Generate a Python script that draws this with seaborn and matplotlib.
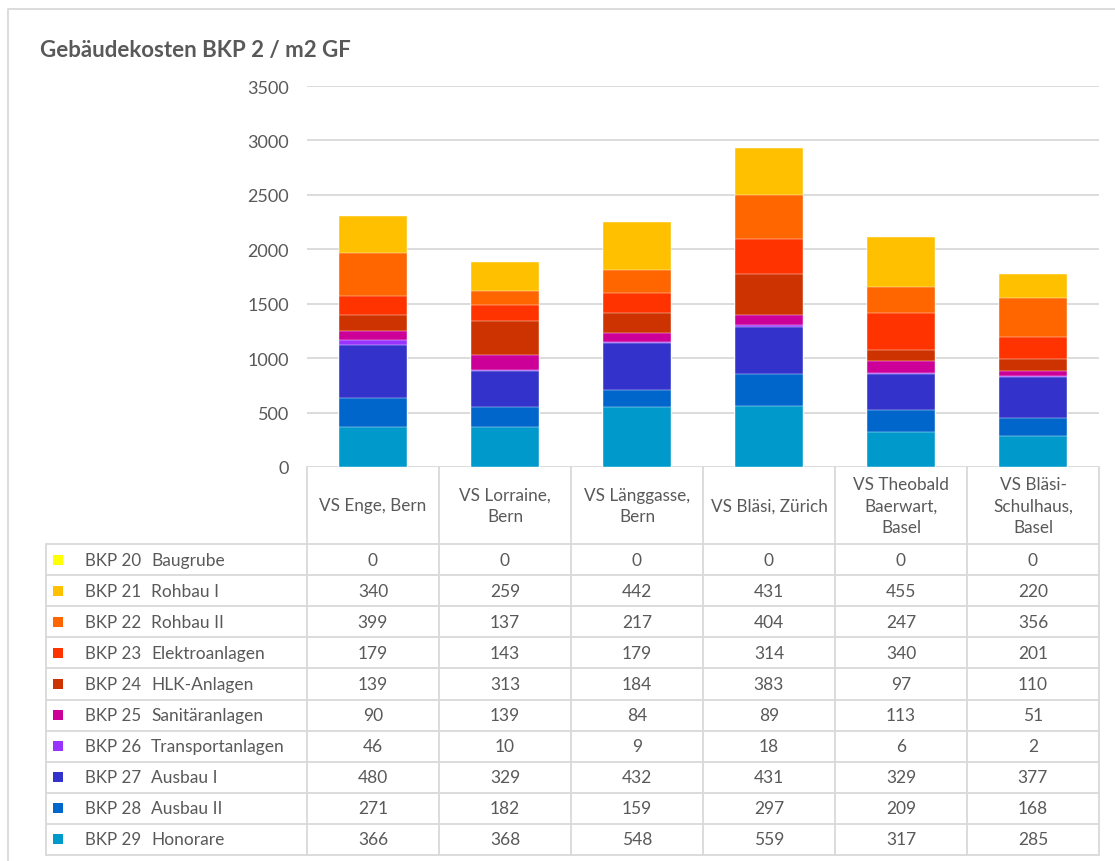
import numpy as np
import pandas as pd
import matplotlib
matplotlib.use("Agg")
import matplotlib.pyplot as plt
import seaborn as sns

# ---- data ----
schools = ["VS Enge, Bern", "VS Lorraine,\nBern", "VS Länggasse,\nBern",
           "VS Bläsi, Zürich", "VS Theobald\nBaerwart,\nBasel", "VS Bläsi-\nSchulhaus,\nBasel"]
codes = ["BKP 20", "BKP 21", "BKP 22", "BKP 23", "BKP 24",
         "BKP 25", "BKP 26", "BKP 27", "BKP 28", "BKP 29"]
names = ["Baugrube", "Rohbau I", "Rohbau II", "Elektroanlagen", "HLK-Anlagen",
         "Sanitäranlagen", "Transportanlagen", "Ausbau I", "Ausbau II", "Honorare"]
bkp20 = [0, 0, 0, 0, 0, 0]
bkp21 = [340, 259, 442, 431, 455, 220]
bkp22 = [399, 137, 217, 404, 247, 356]
bkp23 = [179, 143, 179, 314, 340, 201]
bkp24 = [139, 313, 184, 383, 97, 110]
bkp25 = [90, 139, 84, 89, 113, 51]
bkp26 = [46, 10, 9, 18, 6, 2]
bkp27 = [480, 329, 432, 431, 329, 377]
bkp28 = [271, 182, 159, 297, 209, 168]
bkp29 = [366, 368, 548, 559, 317, 285]
colors = ["#FFFF00", "#FFC000", "#FF6600", "#FF3300", "#CC3300",
          "#CC0099", "#9933FF", "#3333CC", "#0066CC", "#0099CC"]
yticks = [0, 500, 1000, 1500, 2000, 2500, 3000, 3500]

series = [bkp20, bkp21, bkp22, bkp23, bkp24, bkp25, bkp26, bkp27, bkp28, bkp29]

sns.set_theme(style="white")
plt.rcParams['font.family'] = ['Lato', 'DejaVu Sans']
TXT = "#595959"
GRID = "#D9D9D9"

W, H = 1115, 862
fig = plt.figure(figsize=(W / 100, H / 100), dpi=100)
fig.patch.set_facecolor("white")

# overlay in pixel coordinates for frame, title and table
ov = fig.add_axes([0, 0, 1, 1], zorder=0)
ov.set_xlim(0, W)
ov.set_ylim(H, 0)
ov.axis("off")

# plot area
L, R, T, B = 307, 1099, 87, 468
ax = fig.add_axes([L / W, (H - B) / H, (R - L) / W, (B - T) / H], zorder=2)
ax.patch.set_alpha(0)

# stacked bars: cumulative from bottom (BKP 29) upwards, drawn top-down
stack_order = list(range(len(series)))[::-1]  # indices 9..0 bottom->top
cum = np.zeros(len(schools))
cums = {}
for idx in stack_order:
    cum = cum + np.array(series[idx])
    cums[idx] = cum.copy()
keys = [s.replace("\n", " ") for s in schools]
for idx in stack_order[::-1]:  # top layer first
    df = pd.DataFrame({"school": keys, "value": cums[idx]})
    sns.barplot(data=df, x="school", y="value", color=colors[idx], ax=ax,
                width=0.515, saturation=1, edgecolor="#FFFFFF", linewidth=0.3,
                order=keys)

ax.set_ylim(0, 3500)
ax.set_xlim(-0.5, len(schools) - 0.5)
ax.set_yticks(yticks)
ax.set_yticklabels([str(v) for v in yticks], color=TXT, fontsize=13)
ax.tick_params(axis="y", length=0, pad=13)
ax.set_xticks([])
ax.set_xlabel("")
ax.set_ylabel("")
for s in ax.spines.values():
    s.set_visible(False)
for v in yticks:
    ax.axhline(v, color=GRID, lw=1.3, zorder=0)
ax.set_axisbelow(True)

# outer frame
ov.plot([8, 8, W + 5], [H + 5, 10, 10], color=GRID, lw=1.3)

# title
ov.text(40, 50, "Gebäudekosten BKP 2 / m2 GF", fontsize=16, fontweight="bold",
        color=TXT, ha="left", va="center")

# data table
colw = (R - L) / len(schools)
col_edges = [L + colw * i for i in range(len(schools) + 1)]
hdr_bot = 545
row_h = (856 - hdr_bot) / len(codes)
tab_bot = hdr_bot + row_h * len(codes)
lkw = dict(color=GRID, lw=1.3)
for xe in col_edges:
    ov.plot([xe, xe], [B, tab_bot], **lkw)
ov.plot([46, 46], [hdr_bot, tab_bot], **lkw)
for r in range(len(codes) + 1):
    yy = hdr_bot + r * row_h
    ov.plot([46, R], [yy, yy], **lkw)

for i, s in enumerate(schools):
    cx = (col_edges[i] + col_edges[i + 1]) / 2
    ov.text(cx, (B + hdr_bot) / 2, s, ha="center", va="center", fontsize=12.3,
            color=TXT, linespacing=1.42)

for r in range(len(codes)):
    cy = hdr_bot + (r + 0.5) * row_h
    ov.add_patch(plt.Rectangle((53, cy - 5), 10, 10, color=colors[r], lw=0))
    ov.text(85, cy, codes[r], ha="left", va="center", fontsize=12.2, color=TXT)
    ov.text(151, cy, names[r], ha="left", va="center", fontsize=12.5, color=TXT)
    for i in range(len(schools)):
        cx = (col_edges[i] + col_edges[i + 1]) / 2
        ov.text(cx, cy, str(series[r][i]), ha="center", va="center",
                fontsize=12.5, color=TXT)

fig.savefig("out.png", dpi=100, facecolor="white")
